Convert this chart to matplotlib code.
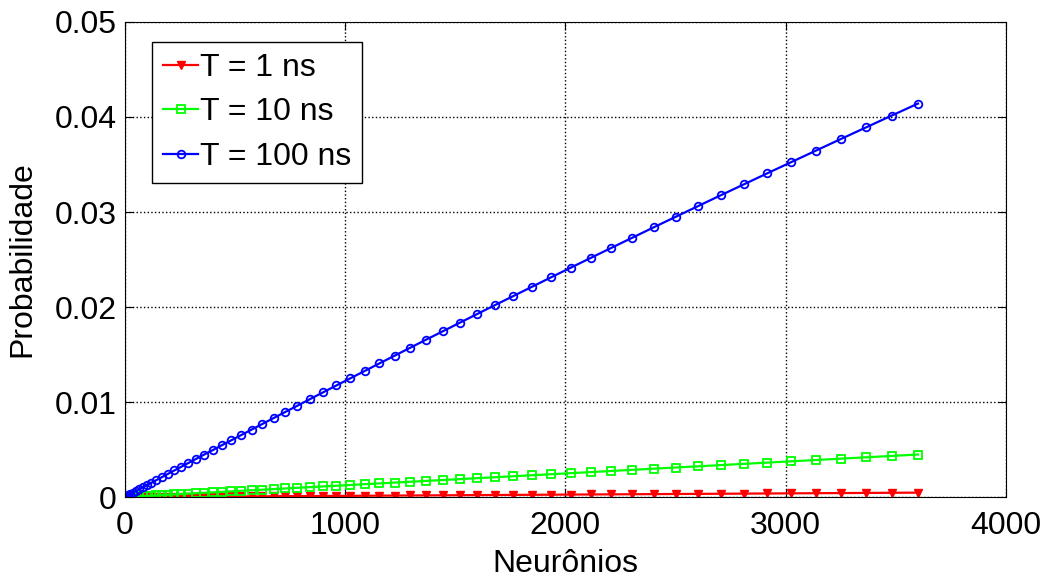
import matplotlib
matplotlib.use("Agg")
import matplotlib.pyplot as plt

# numero de neuronios (quadrados perfeitos 0..3600)
neuronios = [0, 1, 4, 9, 16, 25, 36, 49, 64, 81, 100, 121, 144, 169, 196, 225, 256, 289,
             324, 361, 400, 441, 484, 529, 576, 625, 676, 729, 784, 841, 900, 961, 1024,
             1089, 1156, 1225, 1296, 1369, 1444, 1521, 1600, 1681, 1764, 1849, 1936, 2025,
             2116, 2209, 2304, 2401, 2500, 2601, 2704, 2809, 2916, 3025, 3136, 3249, 3364,
             3481, 3600]

p_100ns = [0, 0.00001, 0.00005, 0.00011, 0.00020, 0.00031, 0.00045, 0.00061, 0.00080,
           0.00101, 0.00125, 0.00151, 0.00179, 0.00210, 0.00244, 0.00280, 0.00318, 0.00359,
           0.00402, 0.00448, 0.00495, 0.00546, 0.00598, 0.00653, 0.00710, 0.00770, 0.00832,
           0.00896, 0.00962, 0.01031, 0.01102, 0.01175, 0.01250, 0.01327, 0.01407, 0.01488,
           0.01572, 0.01658, 0.01745, 0.01835, 0.01927, 0.02021, 0.02116, 0.02214, 0.02314,
           0.02415, 0.02518, 0.02623, 0.02730, 0.02839, 0.02949, 0.03061, 0.03175, 0.03290,
           0.03407, 0.03525, 0.03645, 0.03767, 0.03890, 0.04015, 0.04141]

p_10ns = [0, 0.000001, 0.000005, 0.000011, 0.000020, 0.000031, 0.000045, 0.000061, 0.000080,
          0.000101, 0.000124, 0.000151, 0.000179, 0.000210, 0.000244, 0.000280, 0.000318,
          0.000360, 0.000403, 0.000449, 0.000498, 0.000549, 0.000602, 0.000658, 0.000717,
          0.000778, 0.000841, 0.000907, 0.000975, 0.001046, 0.001120, 0.001195, 0.001274,
          0.001355, 0.001438, 0.001524, 0.001612, 0.001703, 0.001796, 0.001892, 0.001990,
          0.002091, 0.002194, 0.002300, 0.002408, 0.002519, 0.002632, 0.002748, 0.002866,
          0.002987, 0.003110, 0.003236, 0.003364, 0.003494, 0.003628, 0.003763, 0.003901,
          0.004042, 0.004185, 0.004330, 0.004478]

p_1ns = [0, 0.0000001, 0.0000005, 0.0000012, 0.0000021, 0.0000032, 0.0000047, 0.0000064,
         0.0000083, 0.0000105, 0.0000130, 0.0000157, 0.0000187, 0.0000220, 0.0000255,
         0.0000292, 0.0000333, 0.0000376, 0.0000421, 0.0000469, 0.0000520, 0.0000573,
         0.0000629, 0.0000688, 0.0000749, 0.0000812, 0.0000879, 0.0000948, 0.0001019,
         0.0001093, 0.0001170, 0.0001249, 0.0001331, 0.0001416, 0.0001503, 0.0001592,
         0.0001685, 0.0001780, 0.0001877, 0.0001977, 0.0002080, 0.0002185, 0.0002293,
         0.0002404, 0.0002517, 0.0002632, 0.0002751, 0.0002872, 0.0002995, 0.0003121,
         0.0003250, 0.0003381, 0.0003515, 0.0003652, 0.0003791, 0.0003932, 0.0004077,
         0.0004224, 0.0004373, 0.0004525, 0.0004680]

plt.rcParams["font.family"] = ["Liberation Sans", "DejaVu Sans"]

fig = plt.figure(figsize=(10.48, 5.78), dpi=100)
ax = fig.add_axes([0.119, 0.14, 0.841, 0.822])

ax.plot(neuronios, p_1ns, color=(1, 0, 0), marker="v", markersize=6, lw=1.6, label="T = 1 ns")
ax.plot(neuronios, p_10ns, color=(0, 1, 0), marker="s", markersize=6, mfc="none", mew=1.3,
        lw=1.6, label="T = 10 ns")
ax.plot(neuronios, p_100ns, color=(0, 0, 1), marker="o", markersize=5.5, mfc="none", mew=1.3,
        lw=1.6, label="T = 100 ns")

ax.set_xlim(0, 4000)
ax.set_ylim(0, 0.05)
ax.set_xticks([0, 1000, 2000, 3000, 4000])
ax.set_yticks([0, 0.01, 0.02, 0.03, 0.04, 0.05])
ax.set_yticklabels(["0", "0.01", "0.02", "0.03", "0.04", "0.05"])
ax.grid(True, linestyle=":", color="k", lw=1)
ax.tick_params(direction="in", top=True, right=True, labelsize=23, length=6)
ax.tick_params(axis="x", pad=10)
ax.tick_params(axis="y", pad=6)
ax.set_xlabel("Neurônios", fontsize=23, labelpad=6)
ax.set_ylabel("Probabilidade", fontsize=23, labelpad=12)
ax.legend(loc="upper left", bbox_to_anchor=(0.031, 0.958), borderaxespad=0, fontsize=23,
          frameon=True, fancybox=False, edgecolor="k", framealpha=1,
          handlelength=1.1, handletextpad=0.05, borderpad=0.35, labelspacing=0.45)

fig.savefig("out.png", dpi=100)
